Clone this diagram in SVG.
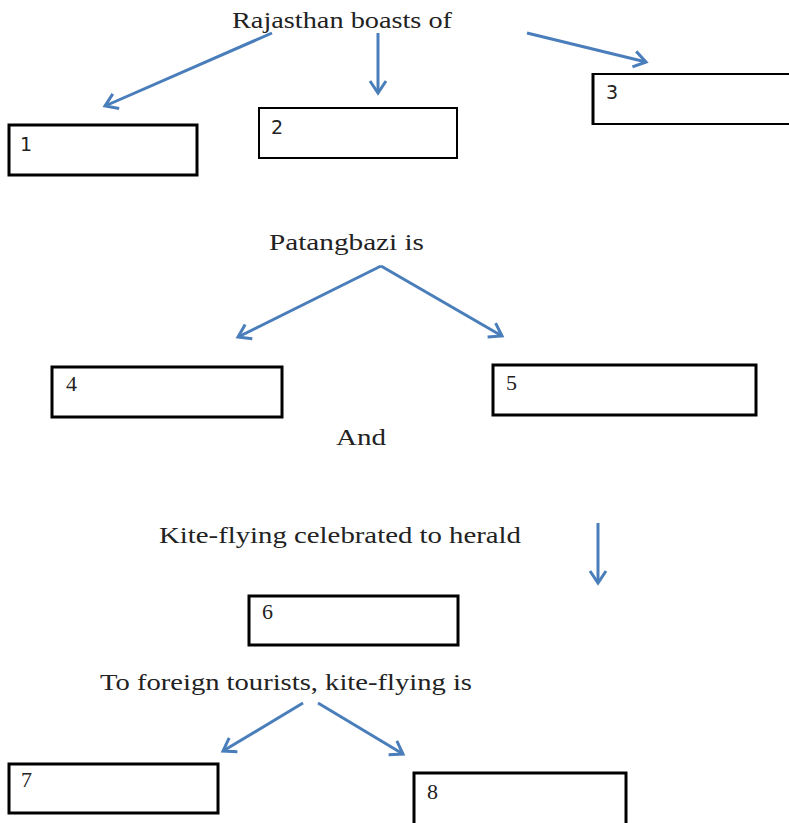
<svg xmlns="http://www.w3.org/2000/svg" width="789" height="823" viewBox="0 0 789 823">
<style>
.box{fill:#fff;stroke:#000;stroke-width:3}
.lbl{font-family:"Liberation Serif","Times New Roman",serif;font-size:24px;fill:#222}
.num{font-family:"DejaVu Sans",Verdana,sans-serif;font-size:19px;fill:#222}
.numS{font-family:"Liberation Serif",serif;font-size:22px;fill:#222}
.arr{stroke:#4a7ebb;stroke-width:3;fill:none;marker-end:url(#ah)}
</style>
<defs>
<marker id="ah" markerUnits="userSpaceOnUse" markerWidth="30" markerHeight="30" refX="15" refY="15" orient="auto">
<path d="M3,7 L15,15 L3,23" fill="none" stroke="#4a7ebb" stroke-width="3"/>
</marker>
</defs>
<rect width="789" height="823" fill="#fff"/>
<g id="connectors">
<line class="arr" x1="272" y1="33" x2="105" y2="106"/>
<line class="arr" x1="378" y1="33" x2="378" y2="93"/>
<line class="arr" x1="527" y1="33" x2="646" y2="62"/>
<line class="arr" x1="381" y1="266" x2="238" y2="337"/>
<line class="arr" x1="381" y1="266" x2="502" y2="336"/>
<line class="arr" x1="598" y1="523" x2="598" y2="583"/>
<line class="arr" x1="303" y1="703" x2="223" y2="751"/>
<line class="arr" x1="318" y1="703" x2="403" y2="754"/>
</g>
<g id="t1"><text class="lbl" x="232" y="28" textLength="220" lengthAdjust="spacingAndGlyphs">Rajasthan boasts of</text></g>
<g id="n1"><rect class="box" x="9" y="125" width="188" height="50"/><text class="num" x="20" y="151">1</text></g>
<g id="n2"><rect class="box" x="259" y="108" width="198" height="50" style="stroke-width:2"/><text class="num" x="271" y="134">2</text></g>
<g id="n3"><rect class="box" x="593" y="74" width="200" height="50" style="stroke-width:2"/><line x1="593" y1="73" x2="593" y2="125" stroke="#000" stroke-width="3"/><text class="num" x="606" y="99">3</text></g>
<g id="t2"><text class="lbl" x="269" y="250" textLength="155" lengthAdjust="spacingAndGlyphs">Patangbazi is</text></g>
<g id="n4"><rect class="box" x="52" y="367" width="230" height="50"/><text class="numS" x="66" y="391">4</text></g>
<g id="n5"><rect class="box" x="493" y="365" width="263" height="50"/><text class="numS" x="506" y="390">5</text></g>
<g id="t3"><text class="lbl" x="336" y="445" textLength="50" lengthAdjust="spacingAndGlyphs">And</text></g>
<g id="t4"><text class="lbl" x="159" y="543" textLength="362" lengthAdjust="spacingAndGlyphs">Kite-flying celebrated to herald</text></g>
<g id="n6"><rect class="box" x="249" y="596" width="209" height="49"/><text class="numS" x="262" y="619">6</text></g>
<g id="t5"><text class="lbl" x="100" y="690" textLength="372" lengthAdjust="spacingAndGlyphs">To foreign tourists, kite-flying is</text></g>
<g id="n7"><rect class="box" x="9" y="764" width="209" height="49"/><text class="numS" x="21" y="787">7</text></g>
<g id="n8"><rect class="box" x="414" y="773" width="212" height="52"/><text class="numS" x="427" y="799">8</text></g>
</svg>
